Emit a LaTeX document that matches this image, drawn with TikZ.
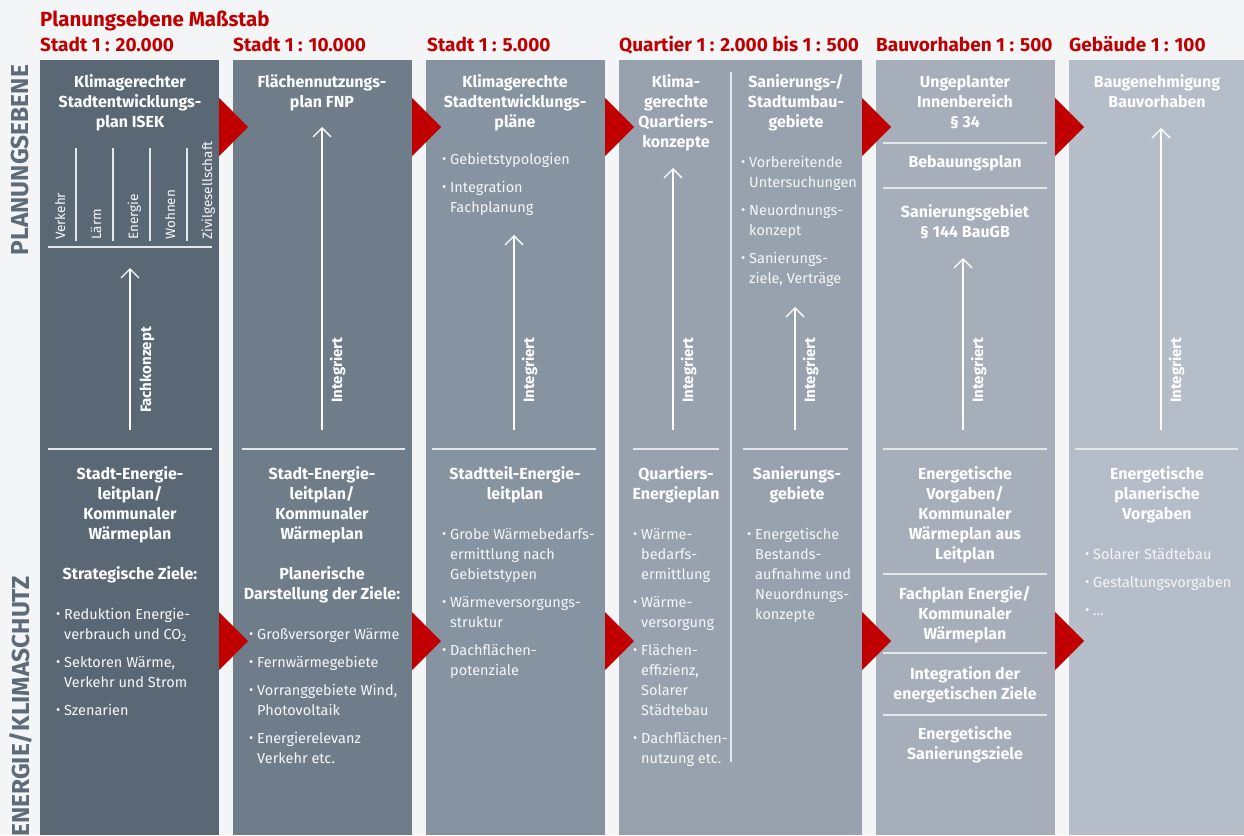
\documentclass[tikz,border=0pt]{standalone}
\usepackage{fontspec}
\setmainfont{Fira Sans}
\usepackage{xcolor}
\usetikzlibrary{arrows.meta}
\definecolor{vizBack}{HTML}{F4F5F7}
\definecolor{vizRed}{HTML}{C00000}
\definecolor{vizSide}{HTML}{5E6B78}
\definecolor{vizColA}{HTML}{5A6875}
\definecolor{vizColB}{HTML}{6F7D8B}
\definecolor{vizColC}{HTML}{8693A0}
\definecolor{vizColD}{HTML}{97A2AE}
\definecolor{vizColE}{HTML}{A5AEB9}
\definecolor{vizColF}{HTML}{B5BDC8}
\definecolor{vizRule}{HTML}{E4E7EA}
\definecolor{vizText}{HTML}{F6F7F8}
\newcommand{\bul}{\makebox[8pt][l]{\raisebox{0.5pt}{\fontsize{13}{13}\selectfont\textbullet}}}
\newcommand{\ind}{\hspace*{8pt}}
\tikzset{
  vizHead/.style={anchor=base west, inner sep=0, text=vizRed, font=\bfseries\fontsize{19}{22}\selectfont},
  vizSideText/.style={rotate=90, inner sep=0, text=vizSide, font=\bfseries\fontsize{24.5}{28}\selectfont},
  vizTitle/.style={anchor=base, inner sep=0, align=center, text=white, font=\bfseries\fontsize{16}{20}\selectfont},
  vizList/.style={anchor=base west, inner sep=0, align=left, text=vizText, font=\fontsize{14.5}{20}\selectfont},
  vizTopic/.style={rotate=90, anchor=base west, inner sep=0, text=vizText, font=\fontsize{13.5}{16}\selectfont},
  vizFlowText/.style={rotate=90, anchor=base, inner sep=0, text=white, font=\bfseries\fontsize{15}{16}\selectfont},
  vizRuleLine/.style={draw=vizRule, line width=1.5pt},
  vizFlow/.style={draw=white, line width=1.3pt, -{Straight Barb[length=9pt,width=18pt]}}
}

\begin{document}
\begin{tikzpicture}[x=1pt,y=-1pt]
  \useasboundingbox (0,0) rectangle (1244,835);
  \fill[vizBack] (0,0) rectangle (1244,835);

  \fill[vizColA] (40,60) rectangle (219,835);
  \fill[vizColB] (233,60) rectangle (412,835);
  \fill[vizColC] (426,60) rectangle (605,835);
  \fill[vizColD] (619,60) rectangle (862,835);
  \fill[vizColE] (876,60) rectangle (1055,835);
  \fill[vizColF] (1069,60) rectangle (1244,835);

  \fill[vizRed] (219,98) -- (248,127) -- (219,156) -- cycle;
  \fill[vizRed] (412,98) -- (441,127) -- (412,156) -- cycle;
  \fill[vizRed] (605,98) -- (634,127) -- (605,156) -- cycle;
  \fill[vizRed] (862,98) -- (891,127) -- (862,156) -- cycle;
  \fill[vizRed] (1055,98) -- (1084,127) -- (1055,156) -- cycle;
  \fill[vizRed] (219,612) -- (248,641) -- (219,670) -- cycle;
  \fill[vizRed] (412,612) -- (441,641) -- (412,670) -- cycle;
  \fill[vizRed] (605,612) -- (634,641) -- (605,670) -- cycle;
  \fill[vizRed] (862,612) -- (891,641) -- (862,670) -- cycle;
  \fill[vizRed] (1055,612) -- (1084,641) -- (1055,670) -- cycle;

  \node[vizHead, font=\bfseries\fontsize{20.5}{24}\selectfont] (hMain) at (40,26) {Planungsebene Maßstab};
  \node[vizHead] (hStadtA) at (40,51) {Stadt 1 : 20.000};
  \node[vizHead] (hStadtB) at (233,51) {Stadt 1 : 10.000};
  \node[vizHead] (hStadtC) at (427,51) {Stadt 1 : 5.000};
  \node[vizHead] (hQuartier) at (619,51) {Quartier 1 : 2.000 bis 1 : 500};
  \node[vizHead] (hBau) at (876,51) {Bauvorhaben 1 : 500};
  \node[vizHead] (hGeb) at (1069,51) {Gebäude 1 : 100};

  \node[vizSideText, anchor=base] (sPlan) at (28,160) {PLANUNGSEBENE};
  \node[vizSideText, anchor=base west] (sEnergie) at (29,837) {ENERGIE/KLIMASCHUTZ};

  % base anchor sits on the last line of each block
  \node[vizTitle] (tIsek) at (130,127) {Klimagerechter\\Stadtentwicklungs-\\plan ISEK};
  \node[vizTitle] (tFnp) at (322,107) {Flächennutzungs-\\plan FNP};
  \node[vizTitle] (tStep) at (515,127) {Klimagerechte\\Stadtentwicklungs-\\pläne};
  \node[vizTitle] (tQuartier) at (676,147) {Klima-\\gerechte\\Quartiers-\\konzepte};
  \node[vizTitle] (tSanierung) at (796,127) {Sanierungs-/\\Stadtumbau-\\gebiete};
  \node[vizTitle] (tInnen) at (965,127) {Ungeplanter\\Innenbereich\\§ 34};
  \node[vizTitle] (tBplan) at (965,167) {Bebauungsplan};
  \node[vizTitle] (tSanGeb) at (965,237) {Sanierungsgebiet\\§ 144 BauGB};
  \node[vizTitle] (tBaugen) at (1157,107) {Baugenehmigung\\Bauvorhaben};

  \node[vizTopic] (kVerkehr) at (65,240) {Verkehr};
  \node[vizTopic] (kLaerm) at (101,240) {Lärm};
  \node[vizTopic] (kEnergie) at (138,240) {Energie};
  \node[vizTopic] (kWohnen) at (175,240) {Wohnen};
  \node[vizTopic] (kZivil) at (212,240) {Zivilgesellschaft};
  \draw[vizRuleLine] (76,148) -- (76,241);
  \draw[vizRuleLine] (113,148) -- (113,241);
  \draw[vizRuleLine] (150,148) -- (150,241);
  \draw[vizRuleLine] (187,148) -- (187,241);
  \draw[vizRuleLine] (48,247) -- (212,247);

  \node[vizList] (lStep) at (442,212) {\bul Gebietstypologien\\[8pt]\bul Integration\\ \ind Fachplanung};
  \node[vizList] (lSanierung) at (741,283) {\bul Vorbereitende\\ \ind Untersuchungen\\[8pt]\bul Neuordnungs-\\ \ind konzept\\[8pt]\bul Sanierungs-\\ \ind ziele, Verträge};

  \draw[vizRuleLine] (883,143) -- (1047,143);
  \draw[vizRuleLine] (883,188) -- (1047,188);
  \draw[vizRuleLine] (731,72) -- (731,762);

  \coordinate (aIsekFrom) at (130,430);
  \coordinate (aIsekTo) at (130,268);
  \coordinate (aFnpFrom) at (322,430);
  \coordinate (aFnpTo) at (322,127);
  \coordinate (aStepFrom) at (514,430);
  \coordinate (aStepTo) at (514,235);
  \coordinate (aQuartierFrom) at (673,430);
  \coordinate (aQuartierTo) at (673,168);
  \coordinate (aSanFrom) at (795,430);
  \coordinate (aSanTo) at (795,307);
  \coordinate (aBauFrom) at (963,430);
  \coordinate (aBauTo) at (963,258);
  \coordinate (aGebFrom) at (1161,430);
  \coordinate (aGebTo) at (1161,128);
  \draw[vizFlow] (aIsekFrom) -- (aIsekTo);
  \draw[vizFlow] (aFnpFrom) -- (aFnpTo);
  \draw[vizFlow] (aStepFrom) -- (aStepTo);
  \draw[vizFlow] (aQuartierFrom) -- (aQuartierTo);
  \draw[vizFlow] (aSanFrom) -- (aSanTo);
  \draw[vizFlow] (aBauFrom) -- (aBauTo);
  \draw[vizFlow] (aGebFrom) -- (aGebTo);
  \node[vizFlowText] (fIsek) at (151,370) {Fachkonzept};
  \node[vizFlowText] (fFnp) at (342,370) {Integriert};
  \node[vizFlowText] (fStep) at (534,370) {Integriert};
  \node[vizFlowText] (fQuartier) at (693,370) {Integriert};
  \node[vizFlowText] (fSan) at (815,370) {Integriert};
  \node[vizFlowText] (fBau) at (983,370) {Integriert};
  \node[vizFlowText] (fGeb) at (1181,370) {Integriert};

  \draw[vizRuleLine] (48,449) -- (212,449);
  \draw[vizRuleLine] (242,449) -- (405,449);
  \draw[vizRuleLine] (432,449) -- (596,449);
  \draw[vizRuleLine] (633,449) -- (719,449);
  \draw[vizRuleLine] (743,449) -- (848,449);
  \draw[vizRuleLine] (883,449) -- (1047,449);
  \draw[vizRuleLine] (1075,449) -- (1238,449);

  \node[vizTitle] (eLeitA) at (130,539) {Stadt-Energie-\\leitplan/\\Kommunaler\\Wärmeplan};
  \node[vizTitle] (eZieleA) at (130,579) {Strategische Ziele:};
  \node[vizTitle] (eLeitB) at (322,539) {Stadt-Energie-\\leitplan/\\Kommunaler\\Wärmeplan};
  \node[vizTitle] (eZieleB) at (322,599) {Planerische\\Darstellung der Ziele:};
  \node[vizTitle] (eLeitC) at (515,499) {Stadtteil-Energie-\\leitplan};
  \node[vizTitle] (eQuartier) at (676,499) {Quartiers-\\Energieplan};
  \node[vizTitle] (eSanierung) at (797,499) {Sanierungs-\\gebiete};
  \node[vizTitle] (eVorgaben) at (965,559) {Energetische\\Vorgaben/\\Kommunaler\\Wärmeplan aus\\Leitplan};
  \node[vizTitle] (eFachplan) at (965,639) {Fachplan Energie/\\Kommunaler\\Wärmeplan};
  \node[vizTitle] (eIntegration) at (965,699) {Integration der\\energetischen Ziele};
  \node[vizTitle] (eSanZiele) at (965,759) {Energetische\\Sanierungsziele};
  \node[vizTitle] (ePlanerisch) at (1157,519) {Energetische\\planerische\\Vorgaben};
  \draw[vizRuleLine] (883,574) -- (1047,574);
  \draw[vizRuleLine] (883,653) -- (1047,653);
  \draw[vizRuleLine] (883,715) -- (1047,715);

  \node[vizList] (lZieleA) at (56,715) {\bul Reduktion Energie-\\ \ind verbrauch und CO\textsubscript{2}\\[8pt]\bul Sektoren Wärme,\\ \ind Verkehr und Strom\\[8pt]\bul Szenarien};
  \node[vizList] (lZieleB) at (249,763) {\bul Großversorger Wärme\\[8pt]\bul Fernwärmegebiete\\[8pt]\bul Vorranggebiete Wind,\\ \ind Photovoltaik\\[8pt]\bul Energierelevanz\\ \ind Verkehr etc.};
  \node[vizList] (lLeitC) at (442,675) {\bul Grobe Wärmebedarfs-\\ \ind ermittlung nach\\ \ind Gebietstypen\\[8pt]\bul Wärmeversorgungs-\\ \ind struktur\\[8pt]\bul Dachflächen-\\ \ind potenziale};
  \node[vizList] (lQuartier) at (633,763) {\bul Wärme-\\ \ind bedarfs-\\ \ind ermittlung\\[8pt]\bul Wärme-\\ \ind versorgung\\[8pt]\bul Flächen-\\ \ind effizienz,\\ \ind Solarer\\ \ind Städtebau\\[8pt]\bul Dachflächen-\\ \ind nutzung etc.};
  \node[vizList] (lSanGeb) at (747,619) {\bul Energetische\\ \ind Bestands-\\ \ind aufnahme und\\ \ind Neuordnungs-\\ \ind konzepte};
  \node[vizList] (lGeb) at (1085,615) {\bul Solarer Städtebau\\[8pt]\bul Gestaltungsvorgaben\\[8pt]\bul \dots};
\end{tikzpicture}
\end{document}
